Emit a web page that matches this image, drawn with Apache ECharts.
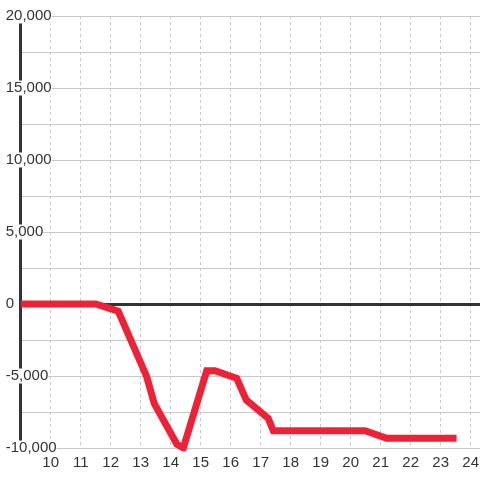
<!DOCTYPE html>
<html>
<head>
<meta charset="utf-8">
<script src="https://cdn.jsdelivr.net/npm/echarts@6/dist/echarts.min.js"></script>
<style>
  html,body{margin:0;padding:0;background:#fff;}
  #chart{width:480px;height:480px;}
</style>
</head>
<body>
<div id="chart"></div>
<script>
// hour of day vs running value
const hours = [9, 11.5, 12.25, 13.2, 13.45, 14.2, 14.42, 15.2, 15.48, 16.2, 16.52, 17.25, 17.42, 20.48, 21.2, 23.53];
const values = [0, 0, -500, -5050, -6900, -9720, -10000, -4630, -4630, -5160, -6670, -7940, -8800, -8800, -9330, -9330];

const yMin = -10000, yMax = 20000, yStep = 5000;
const xMin = 9, xMax = 24.6667, xStep = 1;
const baseline = 0;

const FONT = "'Liberation Sans', Arial, sans-serif";

const chart = echarts.init(document.getElementById("chart"));

function getOption(){
  return {
    animation:false,
    textStyle:{fontFamily:FONT},
    grid:{left:20.7,width:470,top:16,bottom:32,containLabel:false,outerBoundsMode:"none"},
    xAxis:{
      type:"value",
      min:xMin,
      max:xMax,
      interval:xStep,
      axisLine:{show:false},
      axisTick:{show:false},
      axisLabel:{
        color:"#333",
        fontSize:15,
        fontFamily:FONT,
        margin:7,
        showMinLabel:false,
        showMaxLabel:false
      },
      splitLine:{
        show:true,
        lineStyle:{color:"#c8c8c8",type:[3,3],width:1}
      }
    },
    yAxis:{
      type:"value",
      min:yMin,
      max:yMax,
      interval:yStep,
      axisLine:{show:true,lineStyle:{color:"#333",width:3}},
      axisTick:{show:false},
      axisLabel:{
        color:"#333",
        fontSize:15,
        fontFamily:FONT,
        align:"left",
        margin:15,
        backgroundColor:"#fff",
        lineHeight:12,
        padding:[3,0,0,0]
      },
      splitLine:{show:true,lineStyle:{color:"#c8c8c8",width:1}},
      minorTick:{show:false,splitNumber:2},
      minorSplitLine:{show:true,lineStyle:{color:"#c8c8c8",width:1}}
    },
    series:[
      {
        // zero line under the data
        type:"line",
        data:[],
        z:1,
        markLine:{
          silent:true,
          symbol:["none","none"],
          label:{show:false},
          lineStyle:{type:"solid",color:"#333",width:3},
          data:[{yAxis:baseline}]
        }
      },
      {
        type:"line",
        symbol:"none",
        data:hours.map((h,i)=>[h,values[i]]),
        lineStyle:{color:"#ee2236",width:7,join:"miter"},
        z:5
      }
    ]
  };
}

chart.setOption(getOption());
</script>
</body>
</html>
